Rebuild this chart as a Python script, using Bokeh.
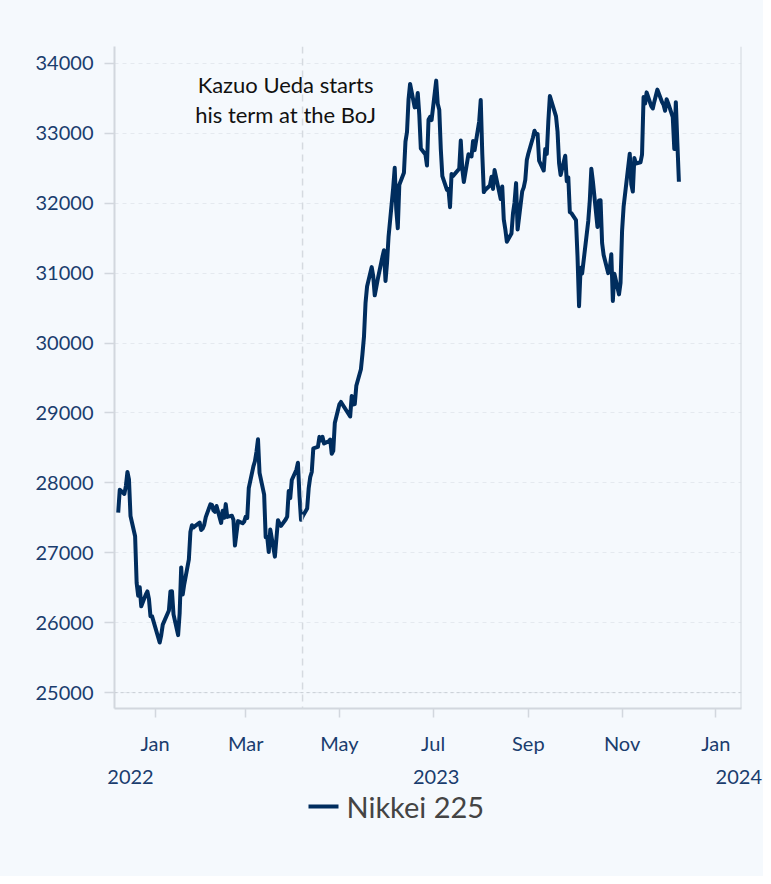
import pandas as pd
from bokeh.plotting import figure
from bokeh.layouts import column
from bokeh.models import (DatetimeAxis, FixedTicker, MonthsTicker, DatetimeTickFormatter,
                          Span, Range1d, ColumnDataSource)
from bokeh.core.properties import value
from bokeh.embed import file_html
from bokeh.resources import INLINE

# ---------------- data ----------------
dates = [
    "2022-12-08", "2022-12-09", "2022-12-12", "2022-12-13", "2022-12-14", "2022-12-15", "2022-12-16",
    "2022-12-19", "2022-12-20", "2022-12-21", "2022-12-22", "2022-12-23", "2022-12-26", "2022-12-27",
    "2022-12-28", "2022-12-29", "2022-12-30",
    "2023-01-04", "2023-01-05", "2023-01-06", "2023-01-10", "2023-01-11", "2023-01-12", "2023-01-13",
    "2023-01-16", "2023-01-17", "2023-01-18", "2023-01-19", "2023-01-20", "2023-01-23", "2023-01-24",
    "2023-01-25", "2023-01-26", "2023-01-27", "2023-01-30", "2023-01-31",
    "2023-02-01", "2023-02-02", "2023-02-03", "2023-02-06", "2023-02-07", "2023-02-08", "2023-02-09",
    "2023-02-10", "2023-02-13", "2023-02-14", "2023-02-15", "2023-02-16", "2023-02-17", "2023-02-20",
    "2023-02-21", "2023-02-22", "2023-02-24", "2023-02-27", "2023-02-28",
    "2023-03-01", "2023-03-02", "2023-03-03", "2023-03-06", "2023-03-07", "2023-03-08", "2023-03-09",
    "2023-03-10", "2023-03-13", "2023-03-14", "2023-03-15", "2023-03-16", "2023-03-17", "2023-03-20",
    "2023-03-22", "2023-03-23", "2023-03-24", "2023-03-27", "2023-03-28", "2023-03-29", "2023-03-30",
    "2023-03-31",
    "2023-04-03", "2023-04-04", "2023-04-05", "2023-04-06", "2023-04-07", "2023-04-10", "2023-04-11",
    "2023-04-12", "2023-04-13", "2023-04-14", "2023-04-17", "2023-04-18", "2023-04-19", "2023-04-20",
    "2023-04-21", "2023-04-24", "2023-04-25", "2023-04-26", "2023-04-27", "2023-04-28",
    "2023-05-01", "2023-05-02", "2023-05-08", "2023-05-09", "2023-05-10", "2023-05-11", "2023-05-12",
    "2023-05-15", "2023-05-16", "2023-05-17", "2023-05-18", "2023-05-19", "2023-05-22", "2023-05-23",
    "2023-05-24", "2023-05-25", "2023-05-26", "2023-05-29", "2023-05-30", "2023-05-31",
    "2023-06-01", "2023-06-02", "2023-06-05", "2023-06-06", "2023-06-07", "2023-06-08", "2023-06-09",
    "2023-06-12", "2023-06-13", "2023-06-14", "2023-06-15", "2023-06-16", "2023-06-19", "2023-06-20",
    "2023-06-21", "2023-06-22", "2023-06-23", "2023-06-26", "2023-06-27", "2023-06-28", "2023-06-29",
    "2023-06-30",
    "2023-07-03", "2023-07-04", "2023-07-05", "2023-07-06", "2023-07-07", "2023-07-10", "2023-07-11",
    "2023-07-12", "2023-07-13", "2023-07-14", "2023-07-18", "2023-07-19", "2023-07-20", "2023-07-21",
    "2023-07-24", "2023-07-25", "2023-07-26", "2023-07-27", "2023-07-28", "2023-07-31",
    "2023-08-01", "2023-08-02", "2023-08-03", "2023-08-04", "2023-08-07", "2023-08-08", "2023-08-09",
    "2023-08-10", "2023-08-14", "2023-08-15", "2023-08-16", "2023-08-17", "2023-08-18", "2023-08-21",
    "2023-08-22", "2023-08-23", "2023-08-24", "2023-08-25", "2023-08-28", "2023-08-29", "2023-08-30",
    "2023-08-31",
    "2023-09-01", "2023-09-04", "2023-09-05", "2023-09-06", "2023-09-07", "2023-09-08", "2023-09-11",
    "2023-09-12", "2023-09-13", "2023-09-14", "2023-09-15", "2023-09-19", "2023-09-20", "2023-09-21",
    "2023-09-22", "2023-09-25", "2023-09-26", "2023-09-27", "2023-09-28", "2023-09-29",
    "2023-10-02", "2023-10-03", "2023-10-04", "2023-10-05", "2023-10-06", "2023-10-10", "2023-10-11",
    "2023-10-12", "2023-10-13", "2023-10-16", "2023-10-17", "2023-10-18", "2023-10-19", "2023-10-20",
    "2023-10-23", "2023-10-24", "2023-10-25", "2023-10-26", "2023-10-27", "2023-10-30", "2023-10-31",
    "2023-11-01", "2023-11-02", "2023-11-06", "2023-11-07", "2023-11-08", "2023-11-09", "2023-11-10",
    "2023-11-13", "2023-11-14", "2023-11-15", "2023-11-16", "2023-11-17", "2023-11-20", "2023-11-21",
    "2023-11-22", "2023-11-24", "2023-11-27", "2023-11-28", "2023-11-29", "2023-11-30",
    "2023-12-01", "2023-12-04", "2023-12-05", "2023-12-06", "2023-12-07", "2023-12-08",
]
nikkei = [
    27574, 27901, 27842, 27954, 28156, 28051, 27527,
    27237, 26568, 26387, 26507, 26235, 26405, 26447,
    26340, 26093, 26094,
    25716, 25820, 25973, 26175, 26446, 26449, 26119,
    25822, 26138, 26791, 26405, 26553, 26906, 27299,
    27395, 27362, 27382, 27433, 27327,
    27346, 27402, 27509, 27693, 27685, 27606, 27584,
    27670, 27427, 27602, 27501, 27696, 27513, 27531,
    27473, 27104, 27453, 27423, 27445,
    27516, 27498, 27927, 28237, 28309, 28444, 28623,
    28143, 27832, 27222, 27229, 27010, 27333, 26945,
    27466, 27419, 27385, 27476, 27518, 27883, 27782,
    28041,
    28188, 28287, 27813, 27472, 27518, 27633, 27923,
    28082, 28156, 28493, 28514, 28658, 28606, 28657,
    28564, 28593, 28620, 28416, 28457, 28856,
    29123, 29157, 28949, 29242, 29122, 29126, 29388,
    29626, 29842, 30093, 30573, 30808, 31086, 30957,
    30682, 30801, 30916, 31233, 31328, 30887,
    31148, 31524, 32217, 32506, 31913, 31641, 32265,
    32434, 32880, 33018, 33485, 33706, 33370, 33388,
    33575, 33264, 32781, 32698, 32538, 33193, 33234,
    33189,
    33753, 33422, 33338, 32773, 32388, 32189, 32203,
    31943, 32419, 32391, 32493, 32896, 32490, 32304,
    32700, 32682, 32668, 32891, 32759, 33172,
    33476, 32707, 32159, 32192, 32254, 32377, 32204,
    32473, 32059, 32238, 31766, 31626, 31450, 31565,
    31856, 32010, 32287, 31624, 32169, 32226, 32333,
    32619,
    32710, 32939, 33036, 32991, 32991, 32607, 32467,
    32776, 32706, 33168, 33533, 33242, 33023, 32571,
    32402, 32678, 32315, 32371, 31872, 31857,
    31759, 31237, 30526, 31075, 30994, 31746, 32040,
    32494, 32315, 31659, 32040, 32042, 31430, 31259,
    30999, 31062, 31269, 30601, 30991, 30696, 30858,
    31601, 31949, 32708, 32271, 32166, 32646, 32568,
    32585, 32695, 33519, 33424, 33585, 33388, 33354,
    33452, 33625, 33447, 33408, 33321, 33486,
    33431, 33231, 32775, 33445, 32858, 32307,
]
series_name = "Nikkei 225"
y_ticks = [25000, 26000, 27000, 28000, 29000, 30000, 31000, 32000, 33000, 34000]
month_tick_months = [0, 2, 4, 6, 8, 10]          # Jan, Mar, May, Jul, Sep, Nov
year_label_dates = ["2022-12-16", "2023-07-03", "2024-01-16"]   # shown as 2022, 2023, 2024
event_date = "2023-04-07"
event_text = "Kazuo Ueda starts\nhis term at the BoJ"
event_text_y = 33485
x_start, x_end = "2022-12-05 14:00", "2024-01-17 18:00"
y_start, y_end = 24773, 34241

# ---------------- style ----------------
BG = "#f5f9fd"
NAVY = "#002d5e"
TICK_TXT = "#1a3d6e"
AXIS_GRAY = "#d2d7de"
FONT = "Lato"
W = 763
MAIN_H = 789
LEG_H = 876 - MAIN_H
BORDER_L, BORDER_R = 114, 22

src = ColumnDataSource(dict(date=pd.to_datetime(dates), close=nikkei))

p = figure(width=W, height=MAIN_H, output_backend="svg", toolbar_location=None,
           x_axis_type=None,
           x_range=Range1d(pd.Timestamp(x_start), pd.Timestamp(x_end)),
           y_range=Range1d(y_start, y_end),
           min_border_left=BORDER_L, min_border_right=BORDER_R, min_border_top=46,
           min_border_bottom=MAIN_H - 708)
p.background_fill_color = BG
p.border_fill_color = BG
p.outline_line_color = None

# y axis
ya = p.yaxis[0]
ya.ticker = FixedTicker(ticks=y_ticks)
ya.axis_line_color = AXIS_GRAY
ya.axis_line_width = 2
ya.major_tick_line_color = AXIS_GRAY
ya.major_tick_line_width = 1.5
ya.major_tick_out = 10
ya.major_tick_in = 0
ya.minor_tick_line_color = None
ya.major_label_text_font = FONT
ya.major_label_text_font_size = "20px"
ya.major_label_text_color = TICK_TXT
ya.major_label_standoff = 11

p.ygrid.grid_line_color = "#e4e9ef"
p.ygrid.grid_line_dash = "4 4"
p.ygrid.grid_line_width = 1
p.xgrid.visible = False

# x axis (months)
xa = DatetimeAxis(ticker=MonthsTicker(months=month_tick_months),
                  formatter=DatetimeTickFormatter(months="%b", days="%b", years="%b"))
xa.axis_line_color = AXIS_GRAY
xa.axis_line_width = 2
xa.major_tick_line_color = AXIS_GRAY
xa.major_tick_line_width = 1.5
xa.major_tick_out = 9
xa.major_tick_in = 0
xa.minor_tick_line_color = None
xa.major_label_text_font = FONT
xa.major_label_text_font_size = "20px"
xa.major_label_text_color = TICK_TXT
xa.major_label_standoff = 13
p.add_layout(xa, "below")

# x axis (years, second tier)
yf = "%Y"
year_axis = DatetimeAxis(
    ticker=FixedTicker(ticks=[pd.Timestamp(d).value // 10**6 for d in year_label_dates]),
    formatter=DatetimeTickFormatter(microseconds=yf, milliseconds=yf, seconds=yf, minsec=yf,
                                    minutes=yf, hourmin=yf, hours=yf, days=yf, months=yf,
                                    years=yf, context=None))
year_axis.axis_line_color = None
year_axis.major_tick_line_color = None
year_axis.minor_tick_line_color = None
year_axis.major_tick_out = 0
year_axis.major_label_standoff = 12
year_axis.major_label_text_font = FONT
year_axis.major_label_text_font_size = "20px"
year_axis.major_label_text_color = TICK_TXT
p.add_layout(year_axis, "below")

# baseline + right border + event line
p.add_layout(Span(location=25000, dimension="width", line_color="#c9ced5",
                  line_dash="3 3", line_width=1))
p.add_layout(Span(location=pd.Timestamp(x_end), dimension="height",
                  line_color=AXIS_GRAY, line_width=2))
p.add_layout(Span(location=pd.Timestamp(event_date), dimension="height",
                  line_color="#d5dae0", line_dash="7 5", line_width=1.5))

r = p.line("date", "close", source=src, line_color=NAVY, line_width=4, line_join="round")

p.text(x=[pd.Timestamp(event_date)], y=[event_text_y], text=[event_text],
       text_align="center", text_baseline="middle", x_offset=-17,
       text_font=value(FONT), text_font_size="22px", text_color="#111111",
       text_line_height=1.1)

# ---------------- legend strip ----------------
# the column aligns this strip's frame with the main frame, so its x range
# spans the same pixel columns (BORDER_L .. W-BORDER_R) -> data units == pixels
pl = figure(width=W, height=LEG_H, output_backend="svg", toolbar_location=None,
            x_range=Range1d(BORDER_L, W - BORDER_R), y_range=Range1d(0, LEG_H),
            x_axis_location=None, y_axis_location=None,
            min_border_left=BORDER_L, min_border_right=BORDER_R,
            min_border_top=0, min_border_bottom=0)
pl.grid.visible = False
pl.outline_line_color = None
pl.background_fill_color = BG
pl.border_fill_color = BG
leg_y = LEG_H - 17
pl.line(x=[308, 338], y=[leg_y, leg_y], line_color=NAVY, line_width=4)
pl.text(x=[346], y=[leg_y], text=[series_name], text_align="left", text_baseline="middle",
        text_font=value(FONT), text_font_size="29px", text_color="#444444")

layout = column(p, pl, spacing=0, styles={"background-color": BG})
open("out.html", "w").write(file_html(layout, INLINE))
